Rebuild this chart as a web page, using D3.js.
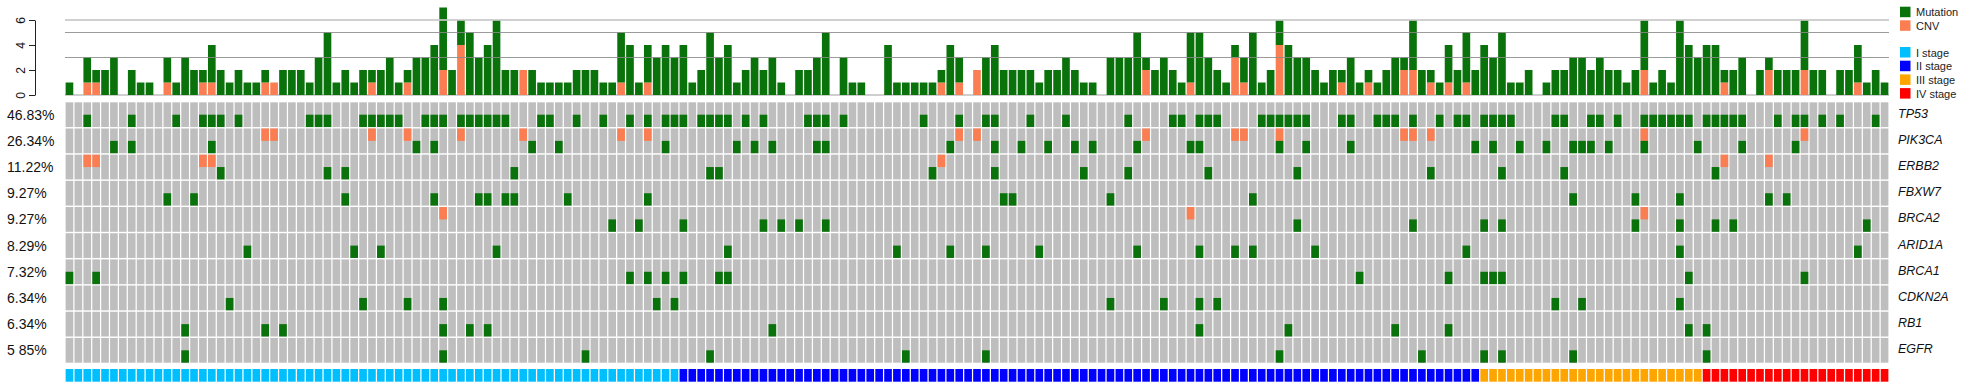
<!DOCTYPE html>
<html>
<head>
<meta charset="utf-8">
<script src="https://cdn.jsdelivr.net/npm/d3@7"></script>
<style>
  body { margin: 0; background: #fff; }
  svg { display: block; }
  text { font-family: "Liberation Sans", Arial, Helvetica, sans-serif; }
</style>
</head>
<body>
<script>
// --- top bar chart: alterations per sample (205 samples) ---
const mutCount = [
  1,0,2,1,2,3,0,2,1,1, 0,2,1,3,2,1,3,2,1,2, 1,1,1,0,2,2,2,1,3,5, 1,2,1,2,1,2,3,1,1,3,
  3,4,5,2,2,5,3,4,6,2, 2,0,2,1,1,1,1,2,2,2, 1,1,4,4,1,3,3,4,3,4, 1,2,5,3,4,1,2,3,2,3,
  1,0,2,2,3,5,0,3,1,1, 0,0,4,1,1,1,1,1,1,4, 2,0,0,3,4,2,2,2,2,1, 2,2,3,2,1,1,0,3,3,3,
  5,1,2,3,2,1,4,5,3,2, 1,1,2,5,1,2,2,4,3,3, 2,1,2,1,3,1,1,1,2,3, 1,4,2,1,1,3,2,4,2,4,
  3,5,1,1,2,0,1,2,2,3, 3,2,3,2,2,1,2,4,1,2, 1,6,4,3,4,4,1,2,3,0, 2,1,2,2,2,4,2,2,0,2,
  2,3,1,2,1
]
const cnvCount = [
  0,0,1,1,0,0,0,0,0,0, 0,1,0,0,0,1,1,0,0,0, 0,0,1,1,0,0,0,0,0,0, 0,0,0,0,1,0,0,0,1,0,
  0,0,2,0,4,0,0,0,0,0, 0,2,0,0,0,0,0,0,0,0, 0,0,1,0,0,1,0,0,0,0, 0,0,0,0,0,0,0,0,0,0,
  0,0,0,0,0,0,0,0,0,0, 0,0,0,0,0,0,0,0,1,0, 1,0,2,0,0,0,0,0,0,0, 0,0,0,0,0,0,0,0,0,0,
  0,2,0,0,0,0,1,0,0,0, 0,3,1,0,0,0,4,0,0,0, 0,0,0,1,0,0,1,0,0,0, 2,2,0,1,0,1,0,1,0,0,
  0,0,0,0,0,0,0,0,0,0, 0,0,0,0,0,0,0,2,0,0, 0,0,0,0,0,0,1,0,0,0, 0,2,0,0,0,2,0,0,0,0,
  0,1,0,0,0
]
const barTicks = [0, 2, 4, 6]

// --- oncoprint: sample indices with a mutation / CNV per gene ---
const genes = ['TP53', 'PIK3CA', 'ERBB2', 'FBXW7', 'BRCA2', 'ARID1A', 'BRCA1', 'CDKN2A', 'RB1', 'EGFR']
const pctLabels = ['46.83%', '26.34%', '11.22%', '9.27%', '9.27%', '8.29%', '7.32%', '6.34%', '6.34%', '5 85%']

const tp53Mut = [2,7,12,15,16,17,19,27,28,29,33,34,35,36,37,40,41,42,44,45,46,47,48,49,53,54,57,60,
  63,65,67,68,69,71,72,73,74,76,78,83,84,85,87,96,100,103,104,108,112,119,124,125,127,128,129,
  134,135,136,137,138,139,143,144,147,148,149,151,154,156,157,159,160,161,162,167,168,171,172,
  174,177,178,179,180,181,182,184,185,186,187,188,192,194,195,197,199,203]
const pik3caMut = [5,7,16,39,41,52,55,67,75,77,79,84,85,99,104,107,110,113,115,120,126,127,136,139,
  144,158,160,163,166,169,170,171,173,177,183,188,194]
const pik3caCnv = [22,23,34,38,44,51,62,65,100,102,121,131,132,136,150,151,153,177,195]
const erbb2Mut = [17,29,31,50,72,73,97,104,114,119,128,138,153,161,168,185]
const erbb2Cnv = [2,3,15,16,98,186,191]
const fbxw7Mut = [11,14,31,41,46,47,49,50,56,65,105,106,117,133,169,176,181,191,193]
const brca2Mut = [61,64,69,78,80,82,85,138,151,159,161,176,181,185,187,202]
const brca2Cnv = [42,126,177]
const arid1aMut = [20,32,35,48,74,93,99,103,109,120,127,131,133,140,157,181,201]
const brca1Mut = [0,3,63,65,67,69,73,74,145,155,159,160,161,182,195]
const cdkn2aMut = [18,33,38,42,66,68,117,123,127,129,167,170,181]
const rb1Mut = [13,22,24,42,45,47,79,127,137,149,155,182,184]
const egfrMut = [13,42,58,72,94,103,136,152,159,161,169,184]

// --- stage annotation ---
const stageNames = ['I stage', 'II stage', 'III stage', 'IV stage']
const stageCounts = [69, 90, 25, 21]

const colMut = '#0a720a'
const colCnv = '#fb7d52'
const colGray = '#bebebe'
const stageColors = ['#00bfff', '#0000ff', '#ffa500', '#ff0000']

const mutLists = [tp53Mut, pik3caMut, erbb2Mut, fbxw7Mut, brca2Mut, arid1aMut, brca1Mut, cdkn2aMut, rb1Mut, egfrMut]
const cnvLists = [[], pik3caCnv, erbb2Cnv, [], brca2Cnv, [], [], [], [], []]

const samples = d3.range(mutCount.length)
const sampleStage = stageCounts.flatMap((n, i) => d3.range(n).map(() => i))

const svg = d3.select('body').append('svg')
  .attr('width', 1965)
  .attr('height', 390)

const x = d3.scaleBand()
  .domain(samples)
  .range([65, 1889])
  .paddingInner(0.14)
  .paddingOuter(0.07)

const yBar = d3.scaleLinear()
  .domain([0, 6])
  .range([95, 20])

const yRow = d3.scaleBand()
  .domain(genes)
  .range([101.6, 363.4])
  .paddingInner(0.055)
  .paddingOuter(0.0275)

// baseline of the bar panel
svg.append('line')
  .attr('x1', 65).attr('x2', 1889)
  .attr('y1', yBar(0)).attr('y2', yBar(0))
  .attr('stroke', '#cfcfcf').attr('stroke-width', 2)

// stacked bars: CNV at the bottom, mutation on top
const gBars = svg.append('g')
gBars.selectAll('rect.cnv')
  .data(samples.filter(i => cnvCount[i] > 0))
  .enter().append('rect')
  .attr('class', 'cnv')
  .attr('x', i => x(i))
  .attr('width', x.bandwidth())
  .attr('y', i => yBar(cnvCount[i]))
  .attr('height', i => yBar(0) - yBar(cnvCount[i]))
  .attr('fill', colCnv)

gBars.selectAll('rect.mut')
  .data(samples.filter(i => mutCount[i] > 0))
  .enter().append('rect')
  .attr('class', 'mut')
  .attr('x', i => x(i))
  .attr('width', x.bandwidth())
  .attr('y', i => yBar(cnvCount[i] + mutCount[i]))
  .attr('height', i => yBar(cnvCount[i]) - yBar(cnvCount[i] + mutCount[i]))
  .attr('fill', colMut)

// reference lines over the bars
const refLines = [
  { v: 6, c: '#c8c8c8', w: 2 },
  { v: 5, c: '#8a8a8a', w: 1 },
  { v: 3, c: '#8a8a8a', w: 1 }
]
svg.selectAll('line.ref')
  .data(refLines)
  .enter().append('line')
  .attr('class', 'ref')
  .attr('x1', 65).attr('x2', 1889)
  .attr('y1', d => yBar(d.v)).attr('y2', d => yBar(d.v))
  .attr('stroke', d => d.c)
  .attr('stroke-width', d => d.w)
  .attr('opacity', 0.85)

// y axis of the bar panel
const yAxis = svg.append('g')
  .attr('transform', 'translate(35,0)')
  .call(d3.axisLeft(yBar).tickValues(barTicks).tickFormat(d3.format('d')).tickSize(6).tickSizeOuter(0))
yAxis.select('.domain').attr('stroke', '#222')
yAxis.selectAll('line').attr('stroke', '#222')
yAxis.selectAll('text')
  .attr('transform', 'rotate(-90)')
  .attr('x', 0)
  .attr('y', -10)
  .attr('dy', 0)
  .attr('text-anchor', 'middle')
  .attr('font-size', '12px')
  .attr('fill', '#111')
  .style('font-family', '"Liberation Sans", Arial, sans-serif')

// oncoprint grid
const cells = []
genes.forEach((g, gi) => {
  const mSet = new Set(mutLists[gi])
  const cSet = new Set(cnvLists[gi])
  samples.forEach(s => cells.push({ gene: g, s: s, mut: mSet.has(s), cnv: cSet.has(s) }))
})

const gGrid = svg.append('g')
gGrid.selectAll('rect.bg')
  .data(cells)
  .enter().append('rect')
  .attr('class', 'bg')
  .attr('x', d => x(d.s))
  .attr('y', d => yRow(d.gene))
  .attr('width', x.bandwidth())
  .attr('height', yRow.bandwidth())
  .attr('fill', colGray)

gGrid.selectAll('rect.c')
  .data(cells.filter(d => d.cnv))
  .enter().append('rect')
  .attr('class', 'c')
  .attr('x', d => x(d.s))
  .attr('y', d => yRow(d.gene))
  .attr('width', x.bandwidth())
  .attr('height', yRow.bandwidth() / 2)
  .attr('fill', colCnv)

gGrid.selectAll('rect.m')
  .data(cells.filter(d => d.mut))
  .enter().append('rect')
  .attr('class', 'm')
  .attr('x', d => x(d.s))
  .attr('y', d => yRow(d.gene) + yRow.bandwidth() / 2)
  .attr('width', x.bandwidth())
  .attr('height', yRow.bandwidth() / 2)
  .attr('fill', colMut)

// percentages on the left
svg.selectAll('text.pct')
  .data(genes)
  .enter().append('text')
  .attr('class', 'pct')
  .attr('x', 7)
  .attr('y', g => yRow(g) + yRow.bandwidth() / 2)
  .attr('dominant-baseline', 'central')
  .attr('font-size', '14px')
  .attr('fill', '#111')
  .text((g, i) => pctLabels[i])

// gene names on the right
svg.selectAll('text.gene')
  .data(genes)
  .enter().append('text')
  .attr('class', 'gene')
  .attr('x', 1898)
  .attr('y', g => yRow(g) + yRow.bandwidth() / 2 - 1)
  .attr('dominant-baseline', 'central')
  .attr('font-size', '12.5px')
  .attr('font-style', 'italic')
  .attr('fill', '#111')
  .text(g => g)

// stage annotation bar
svg.selectAll('rect.stage')
  .data(samples)
  .enter().append('rect')
  .attr('class', 'stage')
  .attr('x', i => x(i))
  .attr('y', 369)
  .attr('width', x.bandwidth())
  .attr('height', 12.7)
  .attr('fill', i => stageColors[sampleStage[i]])

// legend
const legendItems = [
  { label: 'Mutation', color: colMut, y: 6.7 },
  { label: 'CNV', color: colCnv, y: 20.3 }
].concat(stageNames.map((n, i) => ({ label: n, color: stageColors[i], y: 47 + i * 13.7 })))

const lg = svg.append('g')
lg.selectAll('rect')
  .data(legendItems)
  .enter().append('rect')
  .attr('x', 1900)
  .attr('y', d => d.y)
  .attr('width', 10.5)
  .attr('height', 10.5)
  .attr('fill', d => d.color)
lg.selectAll('text')
  .data(legendItems)
  .enter().append('text')
  .attr('x', 1916)
  .attr('y', d => d.y + 5.5)
  .attr('dominant-baseline', 'central')
  .attr('font-size', '11px')
  .attr('fill', '#222')
  .text(d => d.label)
</script>
</body>
</html>
